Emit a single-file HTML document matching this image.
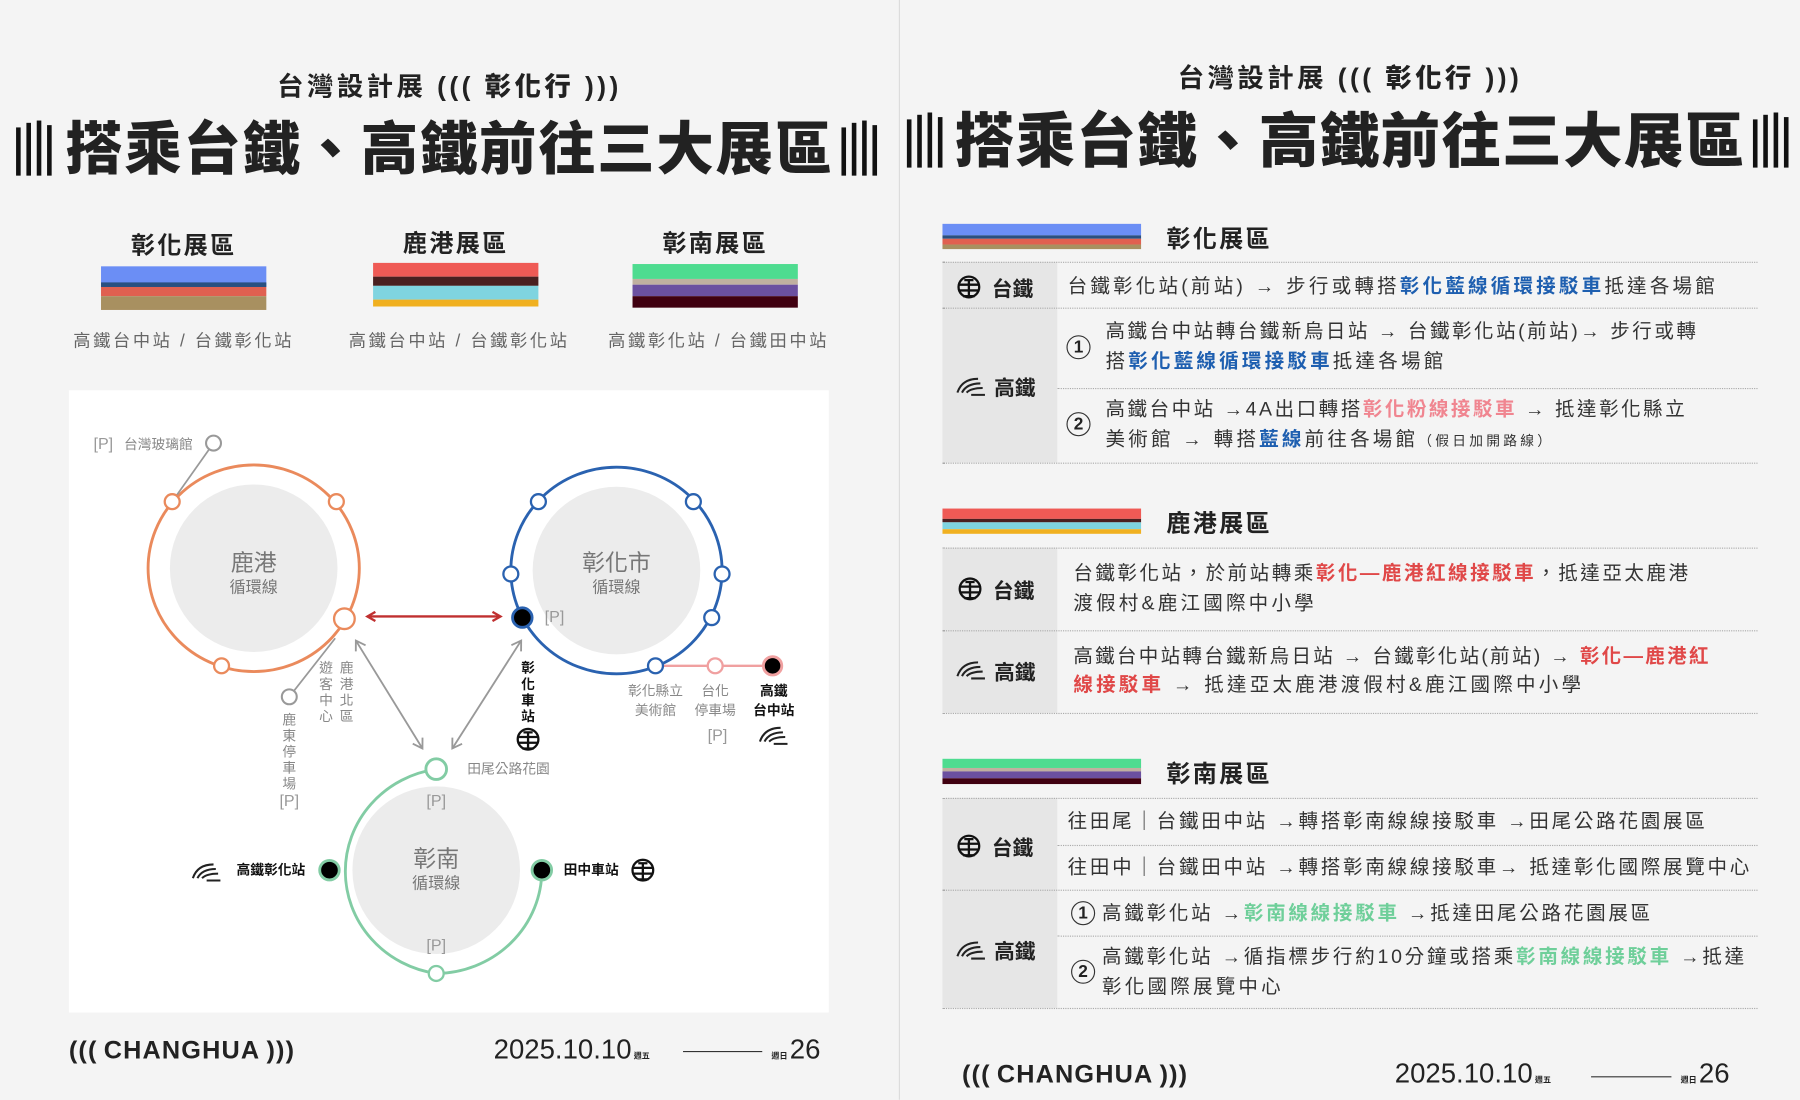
<!DOCTYPE html>
<html><head><meta charset="utf-8">
<style>
html,body{margin:0;padding:0;background:#f4f4f4;width:1800px;height:1100px;overflow:hidden;}
#w{position:absolute;left:0;top:0;width:1568px;height:958px;transform:scale(1.14796);transform-origin:0 0;font-family:"Liberation Sans","Noto Sans CJK TC",sans-serif;color:#222;}
.abs{position:absolute;}
.t{position:absolute;white-space:nowrap;font-size:17px;letter-spacing:2.8px;color:#333;line-height:26px;}
.b{color:#1e5fb0;font-weight:bold;}
.p{color:#f08590;font-weight:bold;}
.r{color:#e04848;font-weight:bold;}
.g{color:#6fcf9a;font-weight:bold;}
.dot{position:absolute;border-top:1.5px dotted #aaa;height:0;}
.lab{position:absolute;font-size:18px;font-weight:bold;color:#222;white-space:nowrap;}
.hd{position:absolute;font-size:21px;font-weight:bold;letter-spacing:2px;white-space:nowrap;}
.num{position:absolute;width:19px;height:19px;border:1.5px solid #333;border-radius:50%;font-size:15px;font-weight:bold;text-align:center;line-height:19px;}
.cap{position:absolute;text-align:center;top:286px;font-size:15px;color:#666;letter-spacing:2.3px;white-space:nowrap}
.sub{position:absolute;text-align:center;font-size:23px;font-weight:bold;letter-spacing:3px;white-space:nowrap}
</style></head><body><div id="w">

<div class="abs" style="left:783px;top:0;width:1px;height:958px;background:#dcdcdc"></div>

<svg class="abs" style="left:0;top:0" width="1568" height="958" xmlns="http://www.w3.org/2000/svg">
<defs>
<g id="bars"><rect x="0" y="6" width="4" height="42" fill="#111"/><rect x="9" y="2" width="4" height="46" fill="#111"/><rect x="18" y="0" width="4" height="48" fill="#111"/><rect x="27" y="4" width="4" height="44" fill="#111"/></g>
<g id="tra"><circle cx="0" cy="0" r="9" fill="none" stroke="#111" stroke-width="2"/><path d="M-9 -2H9M-9 3H9M-4 -6H4M0 -6V8M-5 8H5" stroke="#111" stroke-width="2" fill="none"/></g>
<g id="hsr"><path d="M-12 6Q-8 -6 6 -6M-8 6Q-4 -2 8 -2M-4 6Q0 2 10 2M0 8H12" stroke="#222" stroke-width="1.8" fill="none"/></g>
<marker id="ar" markerWidth="10" markerHeight="10" refX="8" refY="5" orient="auto-start-reverse" markerUnits="userSpaceOnUse"><path d="M1 1L8 5L1 9" fill="none" stroke="#c03030" stroke-width="2"/></marker>
<marker id="ag" markerWidth="12" markerHeight="12" refX="9" refY="6" orient="auto-start-reverse" markerUnits="userSpaceOnUse"><path d="M1 1L9 6L1 11" fill="none" stroke="#999" stroke-width="1.6"/></marker>
</defs>
<use href="#bars" x="14" y="105"/><use href="#bars" x="733" y="105"/>
<use href="#bars" x="790" y="98"/><use href="#bars" x="1527" y="98"/>
<rect x="60" y="340" width="662" height="542" fill="#fff"/>
<g font-family="Liberation Sans, Noto Sans CJK TC, sans-serif">
<circle cx="221" cy="495" r="73" fill="#ececec"/>
<circle cx="537" cy="497" r="73" fill="#ececec"/>
<circle cx="380" cy="758" r="73" fill="#ececec"/>
<ellipse cx="221" cy="495" rx="92" ry="90" fill="none" stroke="#ea8a5c" stroke-width="2.5"/>
<ellipse cx="537" cy="497" rx="92" ry="90" fill="none" stroke="#2a62b0" stroke-width="2.5"/>
<path d="M380 670 A93 90 0 0 0 380 848 A93 90 0 0 0 472 758" fill="none" stroke="#82cca4" stroke-width="2.5"/>
<line x1="150" y1="437" x2="186" y2="386" stroke="#999" stroke-width="1.5"/>
<line x1="252" y1="607" x2="292" y2="556" stroke="#999" stroke-width="1.5"/>
<line x1="571" y1="580" x2="673" y2="580" stroke="#f0a0a0" stroke-width="2"/>
<line x1="320" y1="537" x2="436" y2="537" stroke="#c03030" stroke-width="2" marker-start="url(#ar)" marker-end="url(#ar)"/>
<line x1="310" y1="558" x2="368" y2="652" stroke="#999" stroke-width="1.6" marker-start="url(#ag)" marker-end="url(#ag)"/>
<line x1="454" y1="558" x2="394" y2="652" stroke="#999" stroke-width="1.6" marker-start="url(#ag)" marker-end="url(#ag)"/>
<g fill="#fff" stroke="#ea8a5c" stroke-width="2"><circle cx="150" cy="437" r="6.5"/><circle cx="293" cy="437" r="6.5"/><circle cx="300" cy="539" r="9"/><circle cx="193" cy="580" r="6.5"/></g>
<circle cx="186" cy="386" r="6.5" fill="#fff" stroke="#999" stroke-width="1.8"/>
<circle cx="252" cy="607" r="6.5" fill="#fff" stroke="#999" stroke-width="1.8"/>
<g fill="#fff" stroke="#2a62b0" stroke-width="2"><circle cx="469" cy="437" r="6.5"/><circle cx="604" cy="437" r="6.5"/><circle cx="445" cy="500" r="6.5"/><circle cx="629" cy="500" r="6.5"/><circle cx="620" cy="538" r="6.5"/><circle cx="571" cy="580" r="6.5"/></g>
<circle cx="455" cy="538" r="8.5" fill="#000" stroke="#2a62b0" stroke-width="2.5"/>
<circle cx="623" cy="580" r="6.5" fill="#fff" stroke="#f0a0a0" stroke-width="2"/>
<circle cx="673" cy="580" r="8" fill="#000" stroke="#f0a0a0" stroke-width="2.5"/>
<circle cx="380" cy="670" r="9" fill="#fff" stroke="#82cca4" stroke-width="2.5"/>
<circle cx="380" cy="848" r="6.5" fill="#fff" stroke="#82cca4" stroke-width="2"/>
<circle cx="287" cy="758" r="8.5" fill="#000" stroke="#82cca4" stroke-width="2.5"/>
<circle cx="472" cy="758" r="8.5" fill="#000" stroke="#82cca4" stroke-width="2.5"/>
<g fill="#777" text-anchor="middle">
<text x="221" y="497" font-size="20">鹿港</text><text x="221" y="516" font-size="14">循環線</text>
<text x="537" y="497" font-size="20">彰化市</text><text x="537" y="516" font-size="14">循環線</text>
<text x="380" y="755" font-size="20">彰南</text><text x="380" y="774" font-size="14">循環線</text>
</g>
<g fill="#888" font-size="12" text-anchor="middle">
<text x="138" y="391">台灣玻璃館</text>
<text x="284" y="586">遊</text><text x="284" y="600">客</text><text x="284" y="614">中</text><text x="284" y="628">心</text>
<text x="302" y="586">鹿</text><text x="302" y="600">港</text><text x="302" y="614">北</text><text x="302" y="628">區</text>
<text x="252" y="631">鹿</text><text x="252" y="645">東</text><text x="252" y="659">停</text><text x="252" y="673">車</text><text x="252" y="687">場</text>
<text x="571" y="606">彰化縣立</text><text x="571" y="623">美術館</text>
<text x="623" y="606">台化</text><text x="623" y="623">停車場</text>
<text x="443" y="674">田尾公路花園</text>
</g>
<g fill="#999" font-size="14" text-anchor="middle">
<text x="90" y="391">[P]</text><text x="483" y="542">[P]</text><text x="252" y="702">[P]</text><text x="625" y="645">[P]</text><text x="380" y="702">[P]</text><text x="380" y="828">[P]</text>
</g>
<g fill="#111" font-size="12" font-weight="bold" text-anchor="middle">
<text x="460" y="586">彰</text><text x="460" y="600">化</text><text x="460" y="614">車</text><text x="460" y="628">站</text>
<text x="674" y="606">高鐵</text><text x="674" y="623">台中站</text>
<text x="236" y="762">高鐵彰化站</text><text x="515" y="762">田中車站</text>
</g>
<use href="#tra" x="460" y="644"/><use href="#tra" x="560" y="758"/>
<use href="#hsr" x="674" y="640"/><use href="#hsr" x="180" y="759"/>
</g>
<rect x="88" y="232" width="144" height="18" fill="#6b8ef5"/><rect x="88" y="246" width="144" height="4" fill="#2a5080"/><rect x="88" y="250" width="144" height="8" fill="#e06050"/><rect x="88" y="258" width="144" height="12" fill="#a89060"/>
<rect x="325" y="229" width="144" height="12" fill="#ef5a55"/><rect x="325" y="241" width="144" height="8" fill="#4a2020"/><rect x="325" y="249" width="144" height="12" fill="#7fd4e0"/><rect x="325" y="261" width="144" height="6" fill="#f0b020"/>
<rect x="551" y="230" width="144" height="13" fill="#4edc90"/><rect x="551" y="243" width="144" height="5" fill="#c0b0a0"/><rect x="551" y="248" width="144" height="10" fill="#6b50a0"/><rect x="551" y="258" width="144" height="10" fill="#400010"/>
<rect x="821" y="195" width="173" height="10" fill="#6b8ef5"/><rect x="821" y="205" width="173" height="3" fill="#2a5080"/><rect x="821" y="208" width="173" height="5" fill="#e06050"/><rect x="821" y="213" width="173" height="4" fill="#a89060"/>
<rect x="821" y="443" width="173" height="9" fill="#ef5a55"/><rect x="821" y="452" width="173" height="3" fill="#4a2020"/><rect x="821" y="455" width="173" height="6" fill="#7fd4e0"/><rect x="821" y="461" width="173" height="4" fill="#f0b020"/>
<rect x="821" y="661" width="173" height="8" fill="#4edc90"/><rect x="821" y="669" width="173" height="3" fill="#c0b0a0"/><rect x="821" y="672" width="173" height="6" fill="#6b50a0"/><rect x="821" y="678" width="173" height="5" fill="#400010"/>
<rect x="821" y="228" width="100" height="175" fill="#e6e6e6"/>
<rect x="821" y="477" width="100" height="144" fill="#e6e6e6"/>
<rect x="821" y="695" width="100" height="183" fill="#e6e6e6"/>
<use href="#tra" x="844" y="250"/><use href="#hsr" x="846" y="336"/>
<use href="#tra" x="845" y="513"/><use href="#hsr" x="846" y="583"/>
<use href="#tra" x="844" y="737"/><use href="#hsr" x="846" y="827"/>
<line x1="595" y1="916" x2="664" y2="916" stroke="#333" stroke-width="1"/>
<line x1="1386" y1="938" x2="1456" y2="938" stroke="#333" stroke-width="1"/>
</svg>

<div class="sub" style="left:0;width:783px;top:56px">台灣設計展 ((( <span style="font-weight:900">彰化行</span> )))</div>
<div class="abs" style="left:0;width:783px;top:100px;text-align:center;font-size:50px;font-weight:900;line-height:60px;letter-spacing:1.5px">搭乘台鐵、高鐵前往三大展區</div>
<div class="hd" style="left:88px;width:144px;text-align:center;top:198px">彰化展區</div>
<div class="hd" style="left:325px;width:144px;text-align:center;top:196px">鹿港展區</div>
<div class="hd" style="left:551px;width:144px;text-align:center;top:196px">彰南展區</div>
<div class="cap" style="left:40px;width:240px">高鐵台中站 / 台鐵彰化站</div>
<div class="cap" style="left:280px;width:240px">高鐵台中站 / 台鐵彰化站</div>
<div class="cap" style="left:506px;width:240px">高鐵彰化站 / 台鐵田中站</div>
<div class="abs" style="left:60px;top:902px;font-size:22px;font-weight:900;white-space:nowrap;letter-spacing:1px">(((&thinsp;CHANGHUA&thinsp;)))</div>
<div class="abs" style="left:430px;top:901px;font-size:24px;white-space:nowrap">2025.10.10<span style="font-size:7px;font-weight:bold"> 週五</span></div>
<div class="abs" style="left:672px;top:901px;font-size:24px;white-space:nowrap"><span style="font-size:7px;font-weight:bold">週日 </span>26</div>

<div class="sub" style="left:784px;width:784px;top:49px">台灣設計展 ((( <span style="font-weight:900">彰化行</span> )))</div>
<div class="abs" style="left:784px;width:784px;top:94px;text-align:center;font-size:52px;font-weight:900;line-height:60px;letter-spacing:1px">搭乘台鐵、高鐵前往三大展區</div>

<div class="hd" style="left:1016px;top:192px">彰化展區</div>
<div class="dot" style="left:821px;width:710px;top:228px"></div>
<div class="dot" style="left:821px;width:710px;top:268px"></div>
<div class="dot" style="left:921px;width:610px;top:338px"></div>
<div class="dot" style="left:821px;width:710px;top:403px"></div>
<div class="lab" style="left:864px;top:238px">台鐵</div>
<div class="lab" style="left:866px;top:324px">高鐵</div>
<div class="t" style="left:930px;top:237px">台鐵彰化站(前站) → 步行或轉搭<span class="b">彰化藍線循環接駁車</span>抵達各場館</div>
<div class="num" style="left:929px;top:292px">1</div>
<div class="t" style="left:963px;top:276px;letter-spacing:2.2px">高鐵台中站轉台鐵新烏日站 → 台鐵彰化站(前站)→ 步行或轉</div>
<div class="t" style="left:963px;top:302px">搭<span class="b">彰化藍線循環接駁車</span>抵達各場館</div>
<div class="num" style="left:929px;top:359px">2</div>
<div class="t" style="left:963px;top:344px;letter-spacing:2.2px">高鐵台中站 →4A出口轉搭<span class="p">彰化粉線接駁車</span> → 抵達彰化縣立</div>
<div class="t" style="left:963px;top:370px">美術館 → 轉搭<span class="b">藍線</span>前往各場館<span style="font-size:12px">（假日加開路線）</span></div>

<div class="hd" style="left:1016px;top:440px">鹿港展區</div>
<div class="dot" style="left:821px;width:710px;top:477px"></div>
<div class="dot" style="left:821px;width:710px;top:549px"></div>
<div class="dot" style="left:821px;width:710px;top:621px"></div>
<div class="lab" style="left:865px;top:501px">台鐵</div>
<div class="lab" style="left:866px;top:572px">高鐵</div>
<div class="t" style="left:935px;top:487px;letter-spacing:2.2px">台鐵彰化站，於前站轉乘<span class="r">彰化—鹿港紅線接駁車</span>，抵達亞太鹿港</div>
<div class="t" style="left:935px;top:513px">渡假村&amp;鹿江國際中小學</div>
<div class="t" style="left:935px;top:559px;letter-spacing:2px">高鐵台中站轉台鐵新烏日站 → 台鐵彰化站(前站) → <span class="r">彰化—鹿港紅</span></div>
<div class="t" style="left:935px;top:584px"><span class="r">線接駁車</span> → 抵達亞太鹿港渡假村&amp;鹿江國際中小學</div>

<div class="hd" style="left:1016px;top:658px">彰南展區</div>
<div class="dot" style="left:821px;width:710px;top:695px"></div>
<div class="dot" style="left:921px;width:610px;top:736px"></div>
<div class="dot" style="left:821px;width:710px;top:775px"></div>
<div class="dot" style="left:921px;width:610px;top:815px"></div>
<div class="dot" style="left:821px;width:710px;top:878px"></div>
<div class="lab" style="left:864px;top:725px">台鐵</div>
<div class="lab" style="left:866px;top:815px">高鐵</div>
<div class="t" style="left:930px;top:703px;letter-spacing:2.4px">往田尾｜台鐵田中站 →轉搭彰南線線接駁車 →田尾公路花園展區</div>
<div class="t" style="left:930px;top:743px;letter-spacing:2.4px">往田中｜台鐵田中站 →轉搭彰南線線接駁車→ 抵達彰化國際展覽中心</div>
<div class="num" style="left:933px;top:785px">1</div>
<div class="t" style="left:960px;top:783px;letter-spacing:2.4px">高鐵彰化站 →<span class="g">彰南線線接駁車</span> →抵達田尾公路花園展區</div>
<div class="num" style="left:933px;top:836px">2</div>
<div class="t" style="left:960px;top:821px;letter-spacing:2.4px">高鐵彰化站 →循指標步行約10分鐘或搭乘<span class="g">彰南線線接駁車</span> →抵達</div>
<div class="t" style="left:960px;top:847px">彰化國際展覽中心</div>

<div class="abs" style="left:838px;top:923px;font-size:22px;font-weight:900;white-space:nowrap;letter-spacing:1px">(((&thinsp;CHANGHUA&thinsp;)))</div>
<div class="abs" style="left:1215px;top:922px;font-size:24px;white-space:nowrap">2025.10.10<span style="font-size:7px;font-weight:bold"> 週五</span></div>
<div class="abs" style="left:1464px;top:922px;font-size:24px;white-space:nowrap"><span style="font-size:7px;font-weight:bold">週日 </span>26</div>
</div></body></html>
